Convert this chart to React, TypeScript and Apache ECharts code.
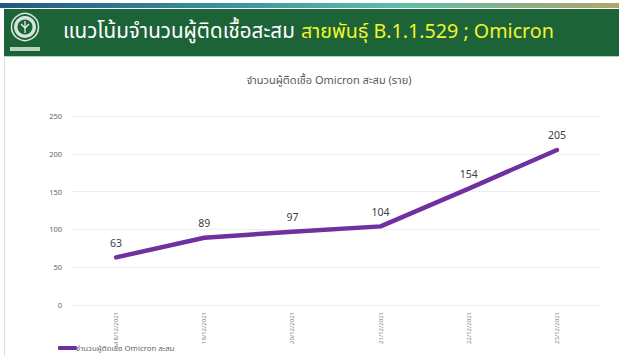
import React, { useEffect, useRef } from "react";
import * as echarts from "echarts";

const dates = ["18/12/2021", "19/12/2021", "20/12/2021", "21/12/2021", "22/12/2021", "23/12/2021"];
const cases = [63, 89, 97, 104, 154, 205];
const seriesName = "จำนวนผู้ติดเชื้อ Omicron สะสม";
const chartTitle = "จำนวนผู้ติดเชื้อ Omicron สะสม (ราย)";
const headerWhite = "แนวโน้มจำนวนผู้ติดเชื้อสะสม";
const headerYellow = "สายพันธุ์ B.1.1.529 ; Omicron";
const font = "'Noto Sans', 'Noto Sans Thai', 'Noto Sans CJK SC', sans-serif";

export default function App() {
  const ref = useRef<HTMLDivElement>(null);
  useEffect(() => {
    const chart = echarts.init(ref.current!, null, { renderer: "svg" });
    chart.setOption({
      animation: false,
      backgroundColor: "#ffffff",
      textStyle: { fontFamily: font },
      title: {
        text: chartTitle,
        left: 324,
        top: 69,
        textAlign: "center",
        textStyle: { fontSize: 11, fontWeight: "normal", color: "#595959", fontFamily: font },
      },
      grid: { left: 72, right: 18, top: 116, height: 189 },
      legend: {
        left: 58,
        top: 344,
        itemWidth: 19,
        itemHeight: 4,
        itemGap: 0,
        icon: "roundRect",
        data: [seriesName],
        padding: 0,
        textStyle: { fontSize: 7.8, color: "#666666", padding: [0, 0, 0, -6], fontFamily: font },
      },
      xAxis: {
        type: "category",
        data: dates,
        boundaryGap: true,
        axisLine: { lineStyle: { color: "#eeeeee" } },
        axisTick: { show: false },
        axisLabel: { rotate: 90, fontSize: 6, color: "#7a7a7a", margin: 7, fontFamily: font },
      },
      yAxis: {
        type: "value",
        min: 0,
        max: 250,
        interval: 50,
        axisLine: { show: false },
        axisTick: { show: false },
        splitLine: { lineStyle: { color: "#eeeeee" } },
        axisLabel: { fontSize: 7.5, color: "#666666", margin: 10, fontFamily: font },
      },
      series: [
        {
          name: seriesName,
          type: "line",
          data: cases,
          showSymbol: true,
          symbol: "circle",
          symbolSize: 1,
          lineStyle: { color: "#7030a0", width: 4.5, cap: "round" },
          itemStyle: { color: "#7030a0" },
          label: {
            show: true,
            position: "top",
            distance: 9,
            fontSize: 10.5,
            color: "#404040",
            fontFamily: font,
          },
        },
      ],
      graphic: [
        {
          type: "rect",
          shape: { x: 0, y: 3, width: 619, height: 5 },
          style: {
            fill: new echarts.graphic.LinearGradient(0, 0, 1, 0, [
              { offset: 0, color: "#1f5a7e" },
              { offset: 0.35, color: "#3a8f9e" },
              { offset: 0.65, color: "#5cbfa8" },
              { offset: 1, color: "#b3a468" },
            ]),
          },
        },
        { type: "rect", shape: { x: 4, y: 9, width: 615, height: 47 }, style: { fill: "#1d6338" } },
        { type: "rect", shape: { x: 4, y: 56, width: 615, height: 1 }, style: { fill: "#a8d8b8" } },
        { type: "rect", shape: { x: 4, y: 57, width: 1, height: 299 }, style: { fill: "#dddddd" } },
        // Department emblem on the header band
        { type: "circle", shape: { cx: 25, cy: 27, r: 13.5 }, style: { fill: "#1d6338", stroke: "#dfeadf", lineWidth: 1.5 } },
        { type: "circle", shape: { cx: 25, cy: 27, r: 11 }, style: { fill: "#d5e4d8" } },
        { type: "circle", shape: { cx: 25, cy: 27, r: 7.5 }, style: { fill: "#1d6338" } },
        { type: "line", shape: { x1: 25, y1: 21, x2: 25, y2: 33 }, style: { stroke: "#f4f8f2", lineWidth: 1.2 } },
        { type: "line", shape: { x1: 21, y1: 24, x2: 25, y2: 28 }, style: { stroke: "#f4f8f2", lineWidth: 1.2 } },
        { type: "line", shape: { x1: 29, y1: 24, x2: 25, y2: 28 }, style: { stroke: "#f4f8f2", lineWidth: 1.2 } },
        { type: "rect", shape: { x: 10, y: 47, width: 30, height: 4 }, style: { fill: "#b9d3bf" } },
        {
          type: "text",
          x: 63,
          y: 30,
          style: {
            text: headerWhite,
            fill: "#ffffff",
            font: `20.6px ${font}`,
            textVerticalAlign: "middle",
          },
        },
        {
          type: "text",
          x: 301,
          y: 30,
          style: {
            text: headerYellow,
            fill: "#f2f52c",
            font: `19.7px ${font}`,
            textVerticalAlign: "middle",
          },
        },
      ],
    });
    return () => chart.dispose();
  }, []);
  return <div ref={ref} style={{ position: "fixed", left: 0, top: 0, width: 619, height: 356 }} />;
}
